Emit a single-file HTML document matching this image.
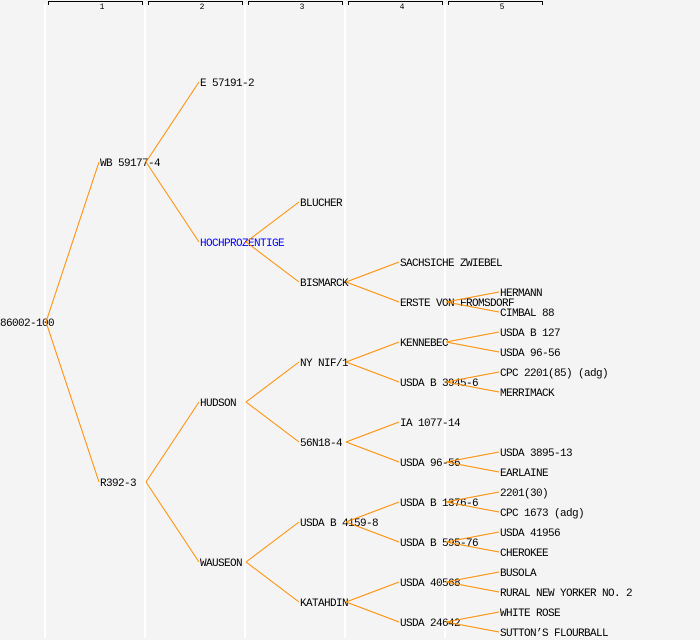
<!DOCTYPE html>
<html><head><meta charset="utf-8"><style>
html,body{margin:0;padding:0;background:#f4f4f4;}
svg{display:block}
text{font-family:"Liberation Mono",monospace;font-size:11px;letter-spacing:-0.6px;fill:#000}
</style></head><body>
<svg width="700" height="640" xmlns="http://www.w3.org/2000/svg">
<rect width="700" height="640" fill="#f4f4f4"/>
<g stroke="#fff" stroke-width="2">
<line x1="45" y1="4" x2="45" y2="638"/><line x1="145" y1="4" x2="145" y2="638"/><line x1="245" y1="4" x2="245" y2="638"/><line x1="345" y1="4" x2="345" y2="638"/><line x1="445" y1="4" x2="445" y2="638"/>
</g>
<g stroke="#000" stroke-width="1" fill="none">
<path d="M48.5 5V1.5H142.5V5"/><path d="M148.5 5V1.5H242.5V5"/><path d="M248.5 5V1.5H342.5V5"/><path d="M348.5 5V1.5H442.5V5"/><path d="M448.5 5V1.5H542.5V5"/>
</g>
<g text-anchor="middle">
<text x="102" y="9" style="font-size:8px;letter-spacing:0">1</text><text x="202" y="9" style="font-size:8px;letter-spacing:0">2</text><text x="302" y="9" style="font-size:8px;letter-spacing:0">3</text><text x="402" y="9" style="font-size:8px;letter-spacing:0">4</text><text x="502" y="9" style="font-size:8px;letter-spacing:0">5</text>
</g>
<g transform="translate(0,-1)">
<text x="0" y="327">86002-100</text>
<text x="100" y="167">WB 59177-4</text><text x="100" y="487">R392-3</text>
<text x="200" y="87">E 57191-2</text><text x="200" y="247" style="fill:#0000ff">HOCHPROZENTIGE</text><text x="200" y="407">HUDSON</text><text x="200" y="567">WAUSEON</text>
<text x="300" y="207">BLUCHER</text><text x="300" y="287">BISMARCK</text><text x="300" y="367">NY NIF/1</text><text x="300" y="447">56N18-4</text><text x="300" y="527">USDA B 4159-8</text><text x="300" y="607">KATAHDIN</text>
<text x="400" y="267">SACHSICHE ZWIEBEL</text><text x="400" y="307">ERSTE VON FROMSDORF</text><text x="400" y="347">KENNEBEC</text><text x="400" y="387">USDA B 3945-6</text><text x="400" y="427">IA 1077-14</text><text x="400" y="467">USDA 96-56</text><text x="400" y="507">USDA B 1376-6</text><text x="400" y="547">USDA B 595-76</text><text x="400" y="587">USDA 40568</text><text x="400" y="627">USDA 24642</text>
<text x="500" y="297">HERMANN</text><text x="500" y="317">CIMBAL 88</text><text x="500" y="337">USDA B 127</text><text x="500" y="357">USDA 96-56</text><text x="500" y="377">CPC 2201(85) (adg)</text><text x="500" y="397">MERRIMACK</text><text x="500" y="457">USDA 3895-13</text><text x="500" y="477">EARLAINE</text><text x="500" y="497">2201(30)</text><text x="500" y="517">CPC 1673 (adg)</text><text x="500" y="537">USDA 41956</text><text x="500" y="557">CHEROKEE</text><text x="500" y="577">BUSOLA</text><text x="500" y="597">RURAL NEW YORKER NO. 2</text><text x="500" y="617">WHITE ROSE</text><text x="500" y="637">SUTTON’S FLOURBALL</text>
</g>
<g stroke="#ff8c00" stroke-width="1" fill="none">
<path d="M46 322L99 162M46 322L99 482"/>
<path d="M146 162L199 82M146 162L199 242M146 482L199 402M146 482L199 562"/>
<path d="M246 242L299 202M246 242L299 282M246 402L299 362M246 402L299 442M246 562L299 522M246 562L299 602"/>
<path d="M346 282L399 262M346 282L399 302M346 362L399 342M346 362L399 382M346 442L399 422M346 442L399 462M346 522L399 502M346 522L399 542M346 602L399 582M346 602L399 622"/>
<path d="M446 302L499 292M446 302L499 312M446 342L499 332M446 342L499 352M446 382L499 372M446 382L499 392M446 462L499 452M446 462L499 472M446 502L499 492M446 502L499 512M446 542L499 532M446 542L499 552M446 582L499 572M446 582L499 592M446 622L499 612M446 622L499 632"/>
</g>
</svg>
</body></html>
